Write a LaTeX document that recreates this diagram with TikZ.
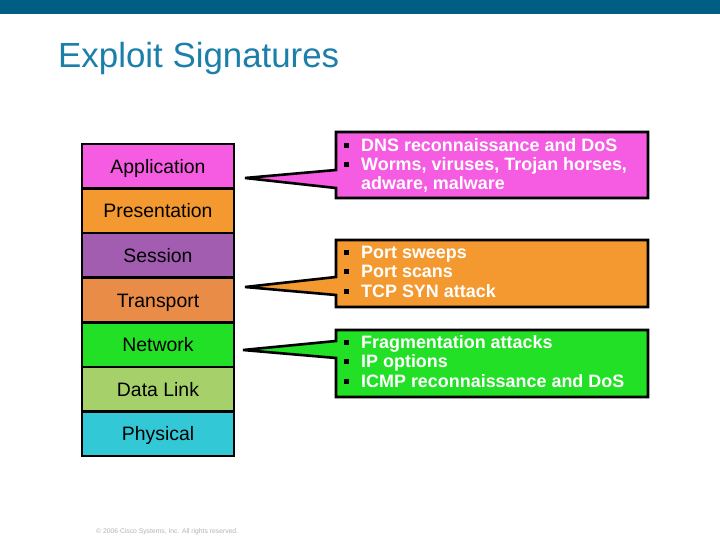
\documentclass[tikz,border=0pt]{standalone}
\usepackage{fontspec}
\setmainfont{Liberation Sans}

\definecolor{barblue}{HTML}{005E85}
\definecolor{titleblue}{HTML}{1B7FA9}
\definecolor{appmagenta}{HTML}{F55CE1}
\definecolor{presorange}{HTML}{F4992F}
\definecolor{sesspurple}{HTML}{A35DB0}
\definecolor{transorange}{HTML}{E98C48}
\definecolor{netgreen}{HTML}{22E025}
\definecolor{linkolive}{HTML}{A6D16A}
\definecolor{phycyan}{HTML}{33C8D6}

\newcommand{\sqbul}{\makebox[18bp][l]{\hspace*{1bp}\textcolor{black}{\rule[3.5bp]{5bp}{5bp}}}}

\tikzset{
  layer/.style={draw=black, line width=2.6bp, minimum width=152bp,
    minimum height=44.6bp, inner sep=0pt, text height=14bp, text depth=0pt,
    font=\fontsize{19.5}{22}\selectfont},
  callout/.style={draw=black, line width=2.6bp, line join=miter},
  calltext/.style={text=white, font=\bfseries\fontsize{18}{19.5}\selectfont,
    align=left, anchor=base west, inner sep=0pt}
}

\begin{document}
\begin{tikzpicture}[x=1bp,y=-1bp]
\useasboundingbox (0,0) rectangle (720,540);
\fill[barblue] (0,0) rectangle (720,14);
\node[anchor=base west, inner sep=0pt, text=titleblue,
  font=\fontsize{35}{38}\selectfont] (title) at (58,68) {Exploit Signatures};

% OSI layers
\node[layer, fill=appmagenta] (app) at (158,166.3) {Application};
\node[layer, fill=presorange] (pres) at (158,210.9) {Presentation};
\node[layer, fill=sesspurple] (sess) at (158,255.4) {Session};
\node[layer, fill=transorange] (trans) at (158,300) {Transport};
\node[layer, fill=netgreen] (net) at (158,344.6) {Network};
\node[layer, fill=linkolive] (link) at (158,389.1) {Data Link};
\node[layer, fill=phycyan] (phy) at (158,433.7) {Physical};

% callouts
\coordinate (tipapp) at (245,178);
\coordinate (tiptrans) at (245,287);
\coordinate (tipnet) at (243,350);
\draw[callout, fill=appmagenta] (336,132) -- (648,132) -- (648,198) -- (336,198)
  -- (336,188) -- (tipapp) -- (336,170) -- cycle;
\draw[callout, fill=presorange] (336,240) -- (648,240) -- (648,307) -- (336,307)
  -- (336,295) -- (tiptrans) -- (336,277) -- cycle;
\draw[callout, fill=netgreen] (336,330) -- (648,330) -- (648,397) -- (336,397)
  -- (336,358) -- (tipnet) -- (336,341) -- cycle;

% base anchor sits on the last line
\node[calltext] (appsig) at (343,190) {\sqbul DNS reconnaissance and DoS\\
  \sqbul Worms, viruses, Trojan horses,\\
  \hspace*{18bp}adware, malware};
\node[calltext] (transsig) at (343,297) {\sqbul Port sweeps\\
  \sqbul Port scans\\
  \sqbul TCP SYN attack};
\node[calltext] (netsig) at (343,387) {\sqbul Fragmentation attacks\\
  \sqbul IP options\\
  \sqbul ICMP reconnaissance and DoS};

\node[anchor=base west, inner sep=0pt, text=black!30,
  font=\fontsize{6.8}{7}\selectfont] (copy) at (96,533)
  {\textcopyright{} 2006 Cisco Systems, Inc. All rights reserved.};
\end{tikzpicture}
\end{document}
